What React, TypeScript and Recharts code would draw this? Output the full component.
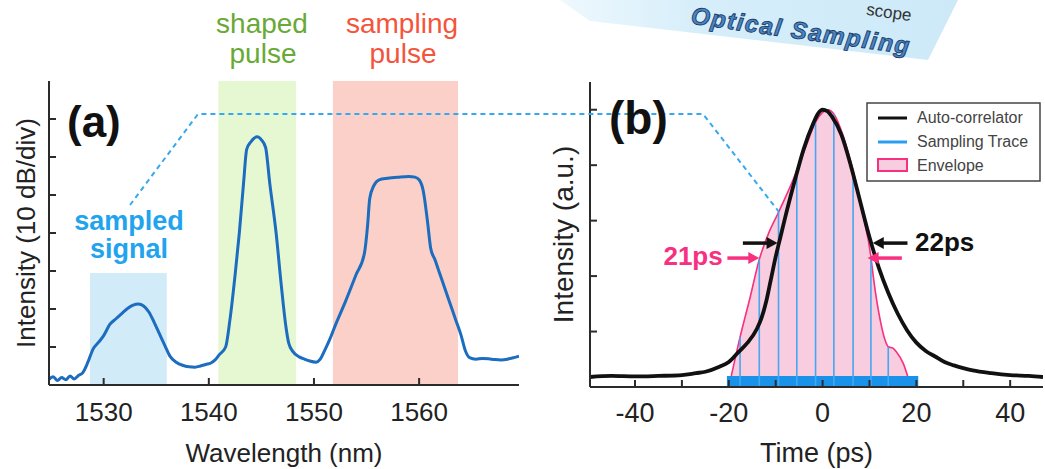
import React from 'react';
import {
  ComposedChart,
  Line,
  Area,
  XAxis,
  YAxis,
  ReferenceArea,
  ReferenceLine,
  ReferenceDot,
  Legend,
} from 'recharts';

const FONT = '"Liberation Sans", Arial, Helvetica, sans-serif';
const AXIS = '#2b2b2b';

// ---------------- panel (a): optical spectrum ----------------
const wavelengthTicks = [1530, 1540, 1550, 1560];
const wavelengthDomain = [1524.8, 1569.5];
const levelATicks = [1, 2, 3, 4, 5, 6, 7];
const levelADomain = [0, 8];

const spectrumWavelength = [
  1524.8, 1525.2, 1525.6, 1526.0, 1526.4, 1526.8, 1527.2, 1527.6, 1528.0, 1528.5,
  1529.0, 1529.5, 1530.0, 1530.6, 1531.2, 1531.8, 1532.3, 1532.8, 1533.3, 1533.8,
  1534.3, 1534.8, 1535.3, 1535.8, 1536.3, 1536.9, 1537.5, 1538.1, 1538.7, 1539.2,
  1539.7, 1540.2, 1540.6, 1541.0, 1541.6, 1542.0, 1542.5, 1542.9, 1543.3, 1543.6,
  1544.0, 1544.6, 1545.0, 1545.4, 1545.8, 1546.4, 1546.9, 1547.3, 1547.6, 1548.0,
  1548.6, 1549.1, 1549.6, 1550.2, 1550.6, 1551.0, 1551.5, 1552.0, 1553.0, 1554.0,
  1554.8, 1555.1, 1555.3, 1555.7, 1556.2, 1557.0, 1558.0, 1559.0, 1559.6, 1560.0,
  1560.4, 1560.8, 1561.1, 1561.5, 1562.0, 1562.5, 1563.0, 1563.5, 1564.0, 1564.4,
  1564.8, 1565.4, 1566.0, 1566.6, 1567.2, 1567.8, 1568.4, 1569.0, 1569.5,
];
const spectrumLevel = [
  0.15, 0.22, 0.12, 0.2, 0.14, 0.24, 0.16, 0.25, 0.32, 0.6,
  0.95, 1.12, 1.3, 1.6, 1.75, 1.9, 2.02, 2.1, 2.13, 2.08,
  1.92, 1.65, 1.35, 1.05, 0.76, 0.6, 0.52, 0.48, 0.47, 0.5,
  0.54, 0.58, 0.66, 0.8, 1.0, 1.7, 2.9, 4.0, 5.3, 6.2,
  6.4, 6.53, 6.45, 6.25, 5.3, 4.0, 2.6, 1.6, 1.1, 0.88,
  0.74, 0.68, 0.63, 0.6, 0.68, 0.9, 1.2, 1.55, 2.2, 2.9,
  3.47, 4.2, 4.9, 5.25, 5.4, 5.44, 5.47, 5.49, 5.47, 5.4,
  5.1, 4.3, 3.6, 3.3, 2.9, 2.5, 2.1, 1.7, 1.3, 0.9,
  0.72, 0.68, 0.7, 0.69, 0.67, 0.66, 0.68, 0.72, 0.76,
];
const bandStart = [1528.7, 1540.9, 1551.8];
const bandEnd = [1536.0, 1548.3, 1563.7];
const bandTop = [2.95, 8, 8];
const bandFill = ['#d2ebf9', '#e6f8d2', '#fad0c8'];

// ---------------- panel (b): pulse in time ----------------
const timeTicks = [-40, -30, -20, -10, 0, 10, 20, 30, 40];
const timeLabels = [-40, -20, 0, 20, 40];
const timeDomain = [-49.6, 47];
const levelBTicks = [0.2, 0.4, 0.6, 0.8, 1.0];
const levelBDomain = [0, 1.1];

const autoTime = [
  -49.6, -45, -40, -35, -30, -27, -25, -22, -20, -18, -16, -14, -13, -12, -11, -10,
  -9, -8, -6, -4, -2, -1, 0, 1, 2, 4, 6, 8, 10, 12, 14, 16, 18, 20, 22, 24, 26, 28,
  30, 32, 36, 40, 44, 47,
];
const autoLevel = [
  0.036, 0.04, 0.038, 0.04, 0.043, 0.05, 0.055, 0.073, 0.09, 0.125, 0.16, 0.21, 0.25,
  0.31, 0.39, 0.47, 0.54, 0.61, 0.74, 0.86, 0.95, 0.985, 1.0, 0.995, 0.975, 0.91,
  0.8, 0.67, 0.54, 0.43, 0.34, 0.265, 0.205, 0.16, 0.13, 0.11, 0.09, 0.078, 0.068,
  0.06, 0.05, 0.043, 0.04, 0.036,
];

const envTime = [
  -19.6, -17.6, -15.5, -13.5, -11.5, -9.4, -7.5, -5.5, -3.5, -1.5, 0, 1.1, 2.4, 4.5,
  6.5, 8.5, 10.3, 10.8, 12.3, 13.3, 14.0, 15.0, 15.8, 17.2, 18.3,
];
const envLevel = [
  0.03, 0.18, 0.32, 0.46, 0.555, 0.63, 0.7, 0.78, 0.87, 0.955, 0.99, 1.0, 0.985, 0.9,
  0.78, 0.63, 0.47, 0.4, 0.24, 0.17, 0.145, 0.14, 0.125, 0.085, 0.03,
];

const sampleTime = [-17.6, -13.5, -9.4, -5.5, -1.5, 2.4, 6.5, 10.3, 14.0];
const sampleLevel = [0.18, 0.46, 0.63, 0.78, 0.955, 0.985, 0.78, 0.47, 0.145];
const traceSpan = [-20.4, 20.4];
const traceLevel = [0.004, 0.04];

const widthNames = ['22ps', '21ps'];
const widthLevel = [0.519, 0.465];
const widthTips = [[-9.6, 10.7], [-13.5, 9.6]];
const widthTails = [[-17.0, 18.1], [-20.3, 16.9]];
const widthColor = ['#111111', '#f7307f'];

const legendNames = ['Auto-correlator', 'Sampling Trace', 'Envelope'];

const spectrumData = spectrumWavelength.map((w, i) => ({ w, v: spectrumLevel[i] }));
const autoData = autoTime.map((t, i) => ({ t, v: autoLevel[i] }));
const envData = envTime.map((t, i) => ({ t, v: envLevel[i] }));

// ---------------- tick renderers (inward ticks) ----------------
const xTick = (dir: number, labels: number[] | null, fontSize: number, dy: number) =>
  (props: any) => {
    const { x, y, payload } = props;
    const v = payload.value;
    return (
      <g>
        <line x1={x} y1={y} x2={x} y2={y - dir * 7} stroke={AXIS} strokeWidth={2} />
        {labels && labels.includes(v) ? (
          <text x={x} y={y + dy} textAnchor="middle" fontSize={fontSize} fill="#222" fontFamily={FONT}>
            {String(v)}
          </text>
        ) : null}
      </g>
    );
  };

const yTick = (dir: number) => (props: any) => {
  const { x, y } = props;
  return <line x1={x} y1={y} x2={x + dir * 7} y2={y} stroke={AXIS} strokeWidth={2} />;
};

const arrowHead = (dir: number, color: string) => (props: any) => {
  const { cx, cy } = props;
  if (cx == null || cy == null) return <g />;
  const L = 11;
  const H = 6;
  return (
    <polygon
      points={`${cx},${cy} ${cx - dir * L},${cy - H} ${cx - dir * L},${cy + H}`}
      fill={color}
    />
  );
};

const textMark = (label: string, color: string, anchor: string) => (props: any) => {
  const { cx, cy } = props;
  if (cx == null || cy == null) return <g />;
  return (
    <text x={cx} y={cy} textAnchor={anchor as any} fontSize={26} fontWeight="bold" fill={color} fontFamily={FONT}>
      {label}
    </text>
  );
};

const LegendBox = () => (
  <svg width={176} height={81} style={{ display: 'block' }}>
    <rect x={1} y={1} width={173} height={78} fill="#fff" stroke="#444" strokeWidth={1.5} />
    <line x1={12} y1={16} x2={41} y2={16} stroke="#111" strokeWidth={3} />
    <line x1={12} y1={40} x2={41} y2={40} stroke="#2a9df0" strokeWidth={3} />
    <rect x={12} y={57} width={29} height={12} fill="#f8cde0" stroke="#f7307f" strokeWidth={2} />
    {legendNames.map((n, i) => (
      <text key={n} x={51} y={21 + i * 24} fontSize={16} fill="#444" fontFamily={FONT}>
        {n}
      </text>
    ))}
  </svg>
);

export default function App() {
  return (
    <div
      style={{
        position: 'absolute',
        left: 0,
        top: 0,
        width: 1045,
        height: 469,
        background: '#fff',
        fontFamily: FONT,
        overflow: 'hidden',
      }}
    >
      {/* ---------- panel (a) ---------- */}
      <div style={{ position: 'absolute', left: 0, top: 0 }}>
        <ComposedChart width={530} height={469} data={spectrumData} margin={{ top: 81, right: 11, bottom: 0, left: 0 }}>
          <XAxis
            dataKey="w"
            type="number"
            domain={wavelengthDomain}
            allowDataOverflow
            ticks={wavelengthTicks}
            interval={0}
            height={84}
            tickSize={0}
            tickMargin={0}
            tickLine={false}
            axisLine={{ stroke: AXIS, strokeWidth: 2 }}
            tick={xTick(1, wavelengthTicks, 26, 36)}
            label={{ value: 'Wavelength (nm)', position: 'center', dy: 26, fontSize: 26, fill: '#222' }}
          />
          <XAxis
            xAxisId="top"
            orientation="top"
            dataKey="w"
            type="number"
            domain={wavelengthDomain}
            allowDataOverflow
            ticks={wavelengthTicks}
            interval={0}
            height={0}
            tickSize={0}
            tickMargin={0}
            tickLine={false}
            axisLine={{ stroke: AXIS, strokeWidth: 2 }}
            tick={xTick(-1, null, 26, 0)}
          />
          <YAxis
            type="number"
            domain={levelADomain}
            allowDataOverflow
            ticks={levelATicks}
            interval={0}
            width={49}
            tickSize={0}
            tickMargin={0}
            tickLine={false}
            axisLine={{ stroke: AXIS, strokeWidth: 2 }}
            tick={yTick(1)}
            label={{ value: 'Intensity (10 dB/div)', angle: -90, position: 'center', dx: 1, fontSize: 26, fill: '#222' }}
          />
          <YAxis
            yAxisId="right"
            orientation="right"
            type="number"
            domain={levelADomain}
            allowDataOverflow
            ticks={levelATicks}
            interval={0}
            width={0}
            tickSize={0}
            tickMargin={0}
            tickLine={false}
            axisLine={{ stroke: AXIS, strokeWidth: 2 }}
            tick={yTick(-1)}
          />
          {bandStart.map((s, i) => (
            <ReferenceArea
              key={'band' + i}
              x1={s}
              x2={bandEnd[i]}
              y1={0}
              y2={bandTop[i]}
              fill={bandFill[i]}
              fillOpacity={1}
              stroke="none"
            />
          ))}
          <Line
            dataKey="v"
            type="monotone"
            stroke="#1c6cbf"
            strokeWidth={3}
            dot={false}
            isAnimationActive={false}
          />
        </ComposedChart>
      </div>

      {/* ---------- panel (b) ---------- */}
      <div style={{ position: 'absolute', left: 530, top: 0 }}>
        <ComposedChart width={515} height={469} margin={{ top: 82, right: 2, bottom: 0, left: 0 }}>
          <XAxis
            dataKey="t"
            type="number"
            domain={timeDomain}
            allowDataOverflow
            ticks={timeTicks}
            interval={0}
            height={82}
            tickSize={0}
            tickMargin={0}
            tickLine={false}
            axisLine={{ stroke: AXIS, strokeWidth: 2 }}
            tick={xTick(1, timeLabels, 27, 35)}
            label={{ value: 'Time (ps)', position: 'center', dy: 24, fontSize: 27, fill: '#222' }}
          />
          <XAxis
            xAxisId="top"
            orientation="top"
            dataKey="t"
            type="number"
            domain={timeDomain}
            allowDataOverflow
            ticks={timeTicks}
            interval={0}
            height={0}
            tickSize={0}
            tickMargin={0}
            tickLine={false}
            axisLine={{ stroke: AXIS, strokeWidth: 2 }}
            tick={xTick(-1, null, 27, 0)}
          />
          <YAxis
            type="number"
            domain={levelBDomain}
            allowDataOverflow
            ticks={levelBTicks}
            interval={0}
            width={60}
            tickSize={0}
            tickMargin={0}
            tickLine={false}
            axisLine={{ stroke: AXIS, strokeWidth: 2 }}
            tick={yTick(1)}
            label={{ value: 'Intensity (a.u.)', angle: -90, position: 'center', dx: 3, fontSize: 28, fill: '#222' }}
          />
          <YAxis
            yAxisId="right"
            orientation="right"
            type="number"
            domain={levelBDomain}
            allowDataOverflow
            ticks={levelBTicks}
            interval={0}
            width={0}
            tickSize={0}
            tickMargin={0}
            tickLine={false}
            axisLine={{ stroke: AXIS, strokeWidth: 2 }}
            tick={yTick(-1)}
          />
          <Area
            data={envData}
            dataKey="v"
            name="Envelope"
            type="monotone"
            stroke="#f7307f"
            strokeWidth={1.6}
            fill="#f8cde0"
            fillOpacity={1}
            dot={false}
            activeDot={false}
            isAnimationActive={false}
          />
          {sampleTime.map((t, i) => (
            <ReferenceLine
              key={'s' + i}
              segment={[{ x: t, y: 0 }, { x: t, y: sampleLevel[i] }]}
              stroke="#45a6f2"
              strokeWidth={1.6}
              ifOverflow="visible"
            />
          ))}
          <ReferenceArea
            x1={traceSpan[0]}
            x2={traceSpan[1]}
            y1={traceLevel[0]}
            y2={traceLevel[1]}
            fill="#1a92ea"
            fillOpacity={1}
            stroke="none"
          />
          <Line
            data={autoData}
            dataKey="v"
            name="Auto-correlator"
            type="monotone"
            stroke="#111"
            strokeWidth={3.8}
            dot={false}
            activeDot={false}
            isAnimationActive={false}
          />
          {widthNames.map((n, i) => (
            <React.Fragment key={n}>
              <ReferenceLine
                segment={[{ x: widthTails[i][0], y: widthLevel[i] }, { x: widthTips[i][0] - 1.5, y: widthLevel[i] }]}
                stroke={widthColor[i]}
                strokeWidth={3.5}
                ifOverflow="visible"
              />
              <ReferenceLine
                segment={[{ x: widthTails[i][1], y: widthLevel[i] }, { x: widthTips[i][1] + 1.5, y: widthLevel[i] }]}
                stroke={widthColor[i]}
                strokeWidth={3.5}
                ifOverflow="visible"
              />
              <ReferenceDot x={widthTips[i][0]} y={widthLevel[i]} r={1} shape={arrowHead(1, widthColor[i])} ifOverflow="visible" />
              <ReferenceDot x={widthTips[i][1]} y={widthLevel[i]} r={1} shape={arrowHead(-1, widthColor[i])} ifOverflow="visible" />
            </React.Fragment>
          ))}
          <ReferenceDot x={19.7} y={0.49} r={1} shape={textMark(widthNames[0], widthColor[0], 'start')} ifOverflow="visible" />
          <ReferenceDot x={-21.3} y={0.44} r={1} shape={textMark(widthNames[1], widthColor[1], 'end')} ifOverflow="visible" />
          <Legend
            layout="horizontal"
            verticalAlign="middle"
            align="center"
            content={() => <LegendBox />}
            wrapperStyle={{ position: 'absolute', left: 336, top: 102, width: 176, height: 81 }}
          />
        </ComposedChart>
      </div>

      {/* ---------- decorations / panel labels ---------- */}
      <svg
        width={1045}
        height={469}
        style={{ position: 'absolute', left: 0, top: 0, pointerEvents: 'none' }}
      >
        <defs>
          <linearGradient id="banner" x1="0" y1="0" x2="1" y2="0">
            <stop offset="0" stopColor="#eef8fd" />
            <stop offset="0.35" stopColor="#d6eefa" />
            <stop offset="1" stopColor="#cde9f8" />
          </linearGradient>
        </defs>
        <polygon points="560,0 958,0 928,60 590,21" fill="url(#banner)" />
        <text
          x={889}
          y={18}
          textAnchor="middle"
          fontSize={17}
          fill="#333"
          transform="rotate(8 889 12)"
          fontFamily={FONT}
        >
          scope
        </text>
        <text
          x={801}
          y={39}
          textAnchor="middle"
          fontSize={24}
          fontWeight="bold"
          fontStyle="italic"
          letterSpacing={1.6}
          fill="#4a86c4"
          stroke="#1b3b68"
          strokeWidth={0.9}
          transform="rotate(8 801 31)"
          fontFamily={FONT}
        >
          Optical Sampling
        </text>

        <text x={262} y={33} textAnchor="middle" fontSize={28} fill="#69a935">shaped</text>
        <text x={263} y={63} textAnchor="middle" fontSize={28} fill="#69a935">pulse</text>
        <text x={402} y={33} textAnchor="middle" fontSize={28} fill="#f4543c">sampling</text>
        <text x={403} y={63} textAnchor="middle" fontSize={28} fill="#f4543c">pulse</text>

        <text x={129} y={230} textAnchor="middle" fontSize={27} fontWeight="bold" fill="#22a3ee">sampled</text>
        <text x={129} y={258} textAnchor="middle" fontSize={27} fontWeight="bold" fill="#22a3ee">signal</text>

        <polyline
          points="130,205 198,114 703,114 779,212"
          fill="none"
          stroke="#36a8f0"
          strokeWidth={2}
          strokeDasharray="5 4"
        />

        <text x={67} y={137} fontSize={44} fontWeight="bold" fill="#111">(a)</text>
        <text x={609} y={134} fontSize={46} fontWeight="bold" fill="#111">(b)</text>
      </svg>
    </div>
  );
}
